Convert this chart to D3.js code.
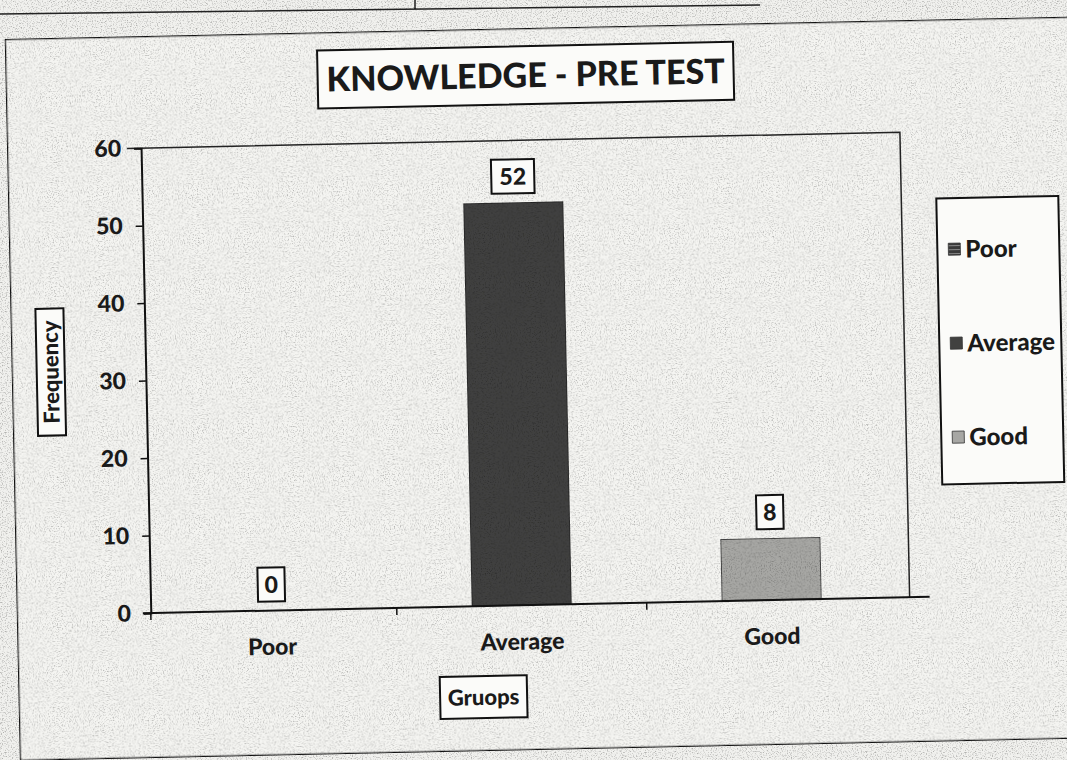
<!DOCTYPE html>
<html>
<head>
<meta charset="utf-8">
<script src="https://cdn.jsdelivr.net/npm/d3@7"></script>
<style>
  body { margin: 0; background: #f1f1ee; }
  text { font-family: Lato, "Open Sans", sans-serif; font-weight: 900; fill: #1a1a1a; }
</style>
</head>
<body>
<script>
// chart data
var categories = ["Poor", "Average", "Good"];
var frequency = [0, 52, 8];
var yTicks = [0, 10, 20, 30, 40, 50, 60];
var barColors = ["url(#poorPat)", "#414140", "#a7a7a4"];

var W = 1067, H = 760;
var plot = {left: 146, right: 905, top: 140, bottom: 605};

var svg = d3.select("body").append("svg")
    .attr("width", W)
    .attr("height", H);

var defs = svg.append("defs");
// paper grain
var f = defs.append("filter").attr("id", "grain").attr("x", 0).attr("y", 0).attr("width", 1).attr("height", 1);
f.append("feTurbulence").attr("type", "fractalNoise").attr("baseFrequency", 0.8).attr("numOctaves", 2).attr("seed", 3);
f.append("feColorMatrix").attr("values", "0 0 0 0 0.5  0 0 0 0 0.5  0 0 0 0 0.5  0 0 0 -3 1.55");
f.append("feComposite").attr("in2", "SourceGraphic").attr("operator", "in");
f.append("feBlend").attr("in", "SourceGraphic").attr("mode", "multiply");

var pat = defs.append("pattern").attr("id", "poorPat")
    .attr("width", 4).attr("height", 4).attr("patternUnits", "userSpaceOnUse");
pat.append("rect").attr("width", 4).attr("height", 4).attr("fill", "#3a3a3a");
pat.append("rect").attr("width", 4).attr("height", 1).attr("fill", "#8a8a8a");

svg.append("rect").attr("width", W).attr("height", H).attr("fill", "#f1f1ee")
    .attr("filter", "url(#grain)");

// line of the table above the chart
svg.append("path")
    .attr("d", "M0,14 L760,5 M415,0 L415,10")
    .attr("fill", "none").attr("stroke", "#222").attr("stroke-width", 1.5);

var g = svg.append("g").attr("transform", "rotate(-1.2,533,380)");

// outer chart frame
g.append("rect")
    .attr("x", 12).attr("y", 28).attr("width", 1100).attr("height", 722)
    .attr("fill", "#f5f5f2").attr("stroke", "#111").attr("stroke-width", 2.5)
    .attr("filter", "url(#grain)");

// scales
var x = d3.scaleBand()
    .domain(categories)
    .range([142, 892])
    .paddingInner(0).paddingOuter(0);
var y = d3.scaleLinear()
    .domain([0, 60])
    .range([plot.bottom, plot.top]);

// plot area border (top / right)
g.append("path")
    .attr("d", "M" + (plot.left - 14) + "," + plot.top + " L" + plot.right + "," + plot.top +
               " L" + plot.right + "," + plot.bottom)
    .attr("fill", "none").attr("stroke", "#222").attr("stroke-width", 1.5);

// bars
var barW = x.bandwidth() * 0.4;
g.selectAll(".bar")
    .data(frequency)
  .enter().append("rect")
    .attr("class", "bar")
    .attr("x", function(d, i) { return x(categories[i]) + (x.bandwidth() - barW) / 2; })
    .attr("y", function(d) { return y(d); })
    .attr("width", barW)
    .attr("height", function(d) { return plot.bottom - y(d); })
    .attr("fill", function(d, i) { return barColors[i]; })
    .attr("stroke", "#222").attr("stroke-width", 1.5)
    .attr("filter", "url(#grain)");

// y axis
var yAxis = g.append("g")
    .attr("transform", "translate(" + plot.left + ",0)")
    .call(d3.axisLeft(y).tickValues(yTicks).tickSize(7).tickPadding(13));
yAxis.select(".domain").attr("stroke", "#111").attr("stroke-width", 2);
yAxis.selectAll(".tick line").attr("stroke", "#111").attr("stroke-width", 1.5);
yAxis.selectAll(".tick text").attr("font-size", 23).attr("font-family", "Lato, sans-serif")
    .attr("font-weight", 900).attr("fill", "#1a1a1a");

// x axis
var xAxis = g.append("g")
    .attr("transform", "translate(0," + plot.bottom + ")")
    .call(d3.axisBottom(x).tickSize(0).tickPadding(28));
xAxis.select(".domain").attr("stroke", "#111").attr("stroke-width", 2)
    .attr("d", "M" + (plot.left - 8) + ",0H" + (plot.right + 20));
xAxis.selectAll(".tick text").attr("font-size", 23).attr("font-family", "Lato, sans-serif")
    .attr("font-weight", 900).attr("fill", "#1a1a1a");
// ticks between the groups
xAxis.selectAll(".sep")
    .data(categories.slice(1))
  .enter().append("line")
    .attr("x1", function(d) { return x(d); })
    .attr("x2", function(d) { return x(d); })
    .attr("y1", 0).attr("y2", 7)
    .attr("stroke", "#111").attr("stroke-width", 1.5);
xAxis.append("line")
    .attr("x1", plot.left).attr("x2", plot.left).attr("y1", 0).attr("y2", 7)
    .attr("stroke", "#111").attr("stroke-width", 1.5);

// boxed text helper
function boxText(parent, cx, cy, w, h, txt, size, rot) {
  var b = parent.append("g").attr("transform", "translate(" + cx + "," + cy + ")" + (rot ? " rotate(" + rot + ")" : ""));
  b.append("rect").attr("x", -w / 2).attr("y", -h / 2).attr("width", w).attr("height", h)
      .attr("fill", "#fbfbf9").attr("stroke", "#111").attr("stroke-width", 2);
  b.append("text").attr("text-anchor", "middle").attr("dy", "0.36em")
      .attr("font-size", size).text(txt);
  return b;
}

// data labels
frequency.forEach(function(d, i) {
  var cx = x(categories[i]) + x.bandwidth() / 2;
  var w = String(d).length > 1 ? 43 : 27;
  boxText(g, cx, y(d) - 26, w, 34, String(d), 23);
});

// title and axis titles
boxText(g, 532, 75, 416, 58, "KNOWLEDGE - PRE TEST", 34);
boxText(g, 51, 362, 127, 28, "Frequency", 22, -90);
boxText(g, 477, 696, 87, 42, "Gruops", 22);

// legend
var leg = g.append("g").attr("transform", "translate(940,207)");
leg.append("rect").attr("width", 122).attr("height", 286)
    .attr("fill", "#fbfbf9").attr("stroke", "#111").attr("stroke-width", 2);
var items = leg.selectAll(".item")
    .data(categories)
  .enter().append("g")
    .attr("transform", function(d, i) { return "translate(11," + (51 + i * 94) + ")"; });
items.append("rect").attr("x", 0).attr("y", -6).attr("width", 12).attr("height", 12)
    .attr("fill", function(d, i) { return barColors[i]; })
    .attr("stroke", "#333").attr("stroke-width", 0.8);
items.append("text").attr("x", 17).attr("dy", "0.36em").attr("font-size", 24)
    .text(function(d) { return d; });
</script>
</body>
</html>
